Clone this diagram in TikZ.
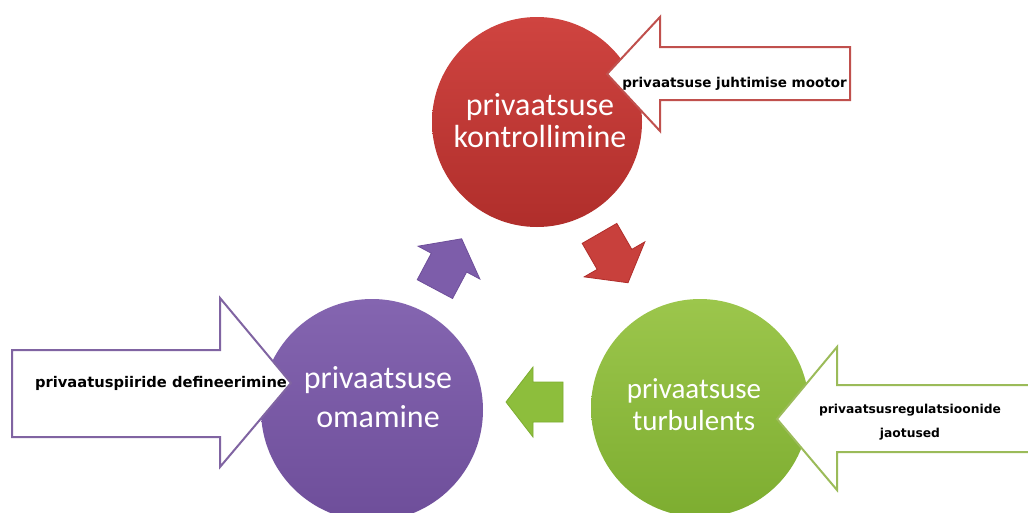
\documentclass[tikz,border=0pt]{standalone}
\usepackage{fontspec}
\setmainfont{Carlito}
\newfontfamily\lblfont{DejaVu Sans}
\definecolor{redA}{HTML}{C8403C}
\definecolor{redTop}{HTML}{CF4440}
\definecolor{redBot}{HTML}{B02E2B}
\definecolor{purpA}{HTML}{7D5DAA}
\definecolor{purpTop}{HTML}{8465B0}
\definecolor{purpBot}{HTML}{6E4E9A}
\definecolor{greenA}{HTML}{8DBE3C}
\definecolor{greenTop}{HTML}{9CC64C}
\definecolor{greenBot}{HTML}{7DAD30}
\definecolor{redLine}{HTML}{C0504D}
\definecolor{purpLine}{HTML}{8064A2}
\definecolor{greenLine}{HTML}{9BBB59}
\tikzset{
  disc/.style={circle, inner sep=0pt, draw=none},
  disctext/.style={text=white, align=center, anchor=base, inner sep=0pt},
  bigarrow/.style={fill=white, line width=2pt, line join=miter},
  lbl/.style={anchor=base, inner sep=0pt, text=black, align=center},
  blockarr/.pic={\path[pic actions] (-29,-20) -- (1,-20) -- (1,-35) -- (28,0) -- (1,35) -- (1,20) -- (-29,20) -- cycle;}
}
\begin{document}
\begin{tikzpicture}[x=1pt,y=-1pt]
\clip (0,0) rectangle (1028,512);
\fill[white] (0,0) rectangle (1028,512);
% circles
\node[disc, minimum size=210pt, top color=redTop, bottom color=redBot] (ctrl) at (537,122) {};
\node[disc, minimum size=222pt, top color=purpTop, bottom color=purpBot] (own) at (372,410) {};
\node[disc, minimum size=218pt, top color=greenTop, bottom color=greenBot] (turb) at (700,408) {};
% big outlined arrows
\draw[bigarrow, draw=redLine] (607,74) -- (660,17) -- (660,47) -- (850,47) -- (850,100) -- (660,100) -- (660,131) -- cycle;
\draw[bigarrow, draw=purpLine] (12,350) -- (220,350) -- (220,298) -- (291,383) -- (220,467) -- (220,437) -- (12,437) -- cycle;
\draw[bigarrow, draw=greenLine] (777,419) -- (837,347) -- (837,385) -- (1040,385) -- (1040,452) -- (837,452) -- (837,490) -- cycle;
% labels in the big arrows
\node[lbl, font=\lblfont\bfseries\fontsize{13.5}{16}\selectfont] (lblctrl) at (734.5,87) {privaatsuse juhtimise mootor};
\node[lbl, font=\lblfont\bfseries\fontsize{14.7}{17}\selectfont] (lblown) at (161,387) {privaatuspiiride defineerimine};
\node[lbl, font=\lblfont\bfseries\fontsize{12.3}{24}\selectfont] (lblturb) at (910,437) {privaatsusregulatsioonide\\jaotused};
% circle texts
\node[disctext, font=\fontsize{32}{32}\selectfont] (ctrltext) at (540,147) {privaatsuse\\kontrollimine};
\node[disctext, font=\fontsize{32}{39}\selectfont] (owntext) at (378,427) {privaatsuse\\omamine};
\node[disctext, font=\fontsize{29}{32}\selectfont] (turbtext) at (694,430) {privaatsuse\\turbulents};
% small block arrows between the circles
\pic[rotate=62, fill=purpA, draw=purpBot, line width=0.8pt] (ownToCtrl) at (448.5,263.5) {blockarr};
\pic[rotate=-60, fill=redA, draw=redBot, line width=0.8pt] (ctrlToTurb) at (614,258.5) {blockarr};
\pic[rotate=180, fill=greenA, draw=greenBot, line width=0.8pt] (turbToOwn) at (534,402) {blockarr};
\end{tikzpicture}
\end{document}
